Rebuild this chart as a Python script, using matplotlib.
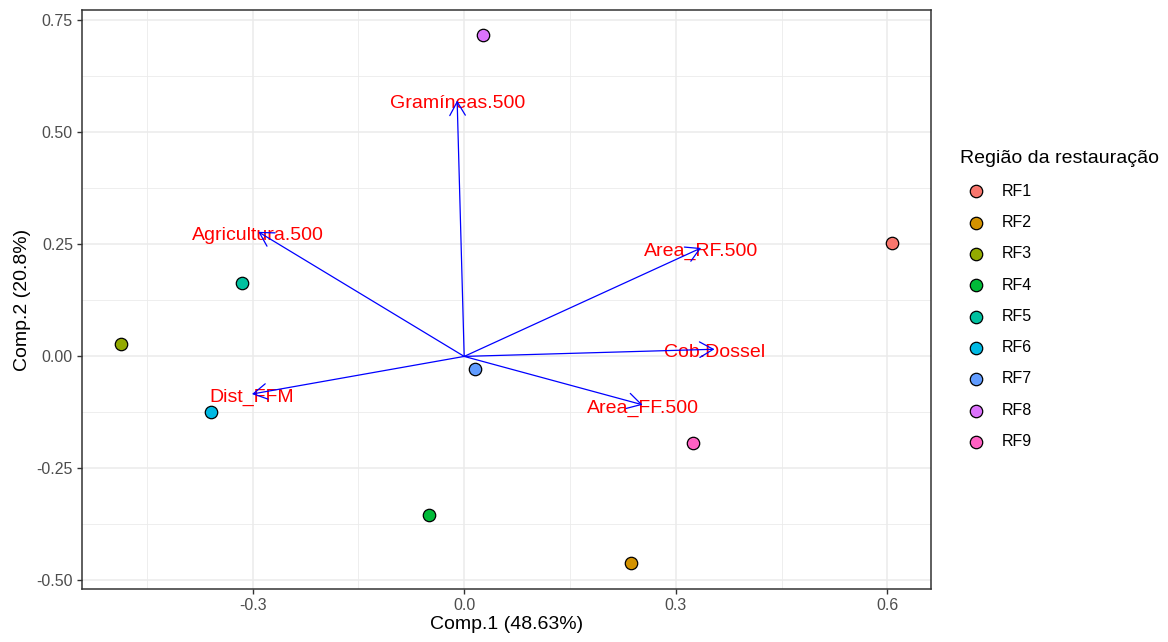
import numpy as np
import matplotlib
matplotlib.use('Agg')
import matplotlib.pyplot as plt
from matplotlib.ticker import MultipleLocator

plt.rcParams['font.family'] = ['Liberation Sans', 'DejaVu Sans']

# scores das regiões (Comp.1, Comp.2)
regioes = ['RF1', 'RF2', 'RF3', 'RF4', 'RF5', 'RF6', 'RF7', 'RF8', 'RF9']
comp1 = [0.606, 0.237, -0.487, -0.050, -0.315, -0.359, 0.016, 0.027, 0.325]
comp2 = [0.254, -0.462, 0.027, -0.353, 0.163, -0.125, -0.027, 0.717, -0.194]
cores = ['#F8766D', '#D39200', '#93AA00', '#00BA38', '#00C19F',
         '#00B9E3', '#619CFF', '#DB72FB', '#FF61C3']

# loadings das variáveis
variaveis = ['Area_RF.500', 'Area_FF.500', 'Cob.Dossel', 'Gramíneas.500',
             'Agricultura.500', 'Dist_FFM']
load1 = [0.336, 0.253, 0.355, -0.010, -0.292, -0.301]
load2 = [0.242, -0.108, 0.016, 0.571, 0.278, -0.084]

fig = plt.figure(figsize=(11.68, 6.42), dpi=100)
ax = fig.add_axes([82 / 1168, 1 - 589 / 642, 849 / 1168, 579 / 642])

# grade estilo theme_bw
ax.xaxis.set_major_locator(MultipleLocator(0.3))
ax.xaxis.set_minor_locator(MultipleLocator(0.15))
ax.yaxis.set_major_locator(MultipleLocator(0.25))
ax.yaxis.set_minor_locator(MultipleLocator(0.125))
ax.grid(which='major', color='#EBEBEB', lw=1.1)
ax.grid(which='minor', color='#EBEBEB', lw=0.6)
ax.set_axisbelow(True)
for s in ax.spines.values():
    s.set_color('#333333')
    s.set_linewidth(1.1)
ax.tick_params(which='major', length=3.5, width=1.0, color='#333333',
               labelcolor='#4D4D4D', labelsize=11.5, pad=3)
ax.tick_params(which='minor', length=0)

# pontos
for i in range(len(regioes)):
    ax.scatter(comp1[i], comp2[i], s=80, color=cores[i], edgecolor='black',
               linewidth=0.9, zorder=3, label=regioes[i])

# rótulos e setas
for i in range(len(variaveis)):
    ax.annotate(variaveis[i], xy=(load1[i], load2[i]), xytext=(0, -2.5),
                textcoords='offset points', color='red', fontsize=14,
                ha='center', va='center', zorder=4)
    ax.annotate('', xy=(load1[i], load2[i]), xytext=(0, 0),
                arrowprops=dict(arrowstyle='->,head_length=0.7,head_width=0.4',
                                color='blue', lw=0.9, shrinkA=0, shrinkB=0,
                                mutation_scale=14),
                zorder=5)

ax.set_xlim(-0.542, 0.662)
ax.set_ylim(-0.519, 0.773)
ax.set_xticks([-0.3, 0.0, 0.3, 0.6])
ax.set_xticklabels(['-0.3', '0.0', '0.3', '0.6'])
ax.set_yticks([-0.5, -0.25, 0, 0.25, 0.5, 0.75])
ax.set_yticklabels(['-0.50', '-0.25', '0.00', '0.25', '0.50', '0.75'])
ax.set_xlabel('Comp.1 (48.63%)', fontsize=14, labelpad=2)
ax.set_ylabel('Comp.2 (20.8%)', fontsize=14, labelpad=4)

leg = ax.legend(title='Região da restauração', loc='upper left',
                bbox_to_anchor=(954 / 1168, 1 - 144 / 642),
                bbox_transform=fig.transFigure, frameon=False,
                fontsize=11.5, title_fontsize=14, labelspacing=1.02,
                handletextpad=0.6, borderaxespad=0)
leg._legend_box.align = 'left'

plt.savefig('out.png', dpi=100)
